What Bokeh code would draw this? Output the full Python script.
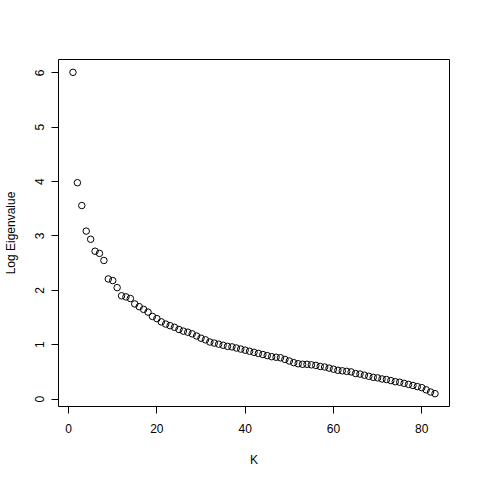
from bokeh.plotting import figure
from bokeh.embed import file_html
from bokeh.resources import INLINE
from bokeh.models import Range1d, FixedTicker

k = list(range(1, 84))
log_eigen = [
    6.01, 3.98, 3.56, 3.09, 2.94, 2.72, 2.68, 2.55, 2.21, 2.18,
    2.05, 1.90, 1.88, 1.85, 1.75, 1.70, 1.65, 1.60, 1.52, 1.48,
    1.42, 1.38, 1.35, 1.32, 1.28, 1.25, 1.23, 1.20, 1.16, 1.12,
    1.09, 1.05, 1.03, 1.01, 0.99, 0.97, 0.96, 0.94, 0.92, 0.90,
    0.88, 0.86, 0.84, 0.82, 0.80, 0.78, 0.77, 0.76, 0.73, 0.70,
    0.67, 0.65, 0.64, 0.64, 0.63, 0.62, 0.60, 0.59, 0.57, 0.55,
    0.53, 0.52, 0.51, 0.50, 0.47, 0.46, 0.44, 0.42, 0.40, 0.39,
    0.37, 0.36, 0.34, 0.32, 0.31, 0.29, 0.27, 0.25, 0.23, 0.21,
    0.17, 0.13, 0.10,
]
x_ticks = [0, 20, 40, 60, 80]
y_ticks = [0, 1, 2, 3, 4, 5, 6]

xpad = (max(k) - min(k)) * 0.04
ypad = (max(log_eigen) - min(log_eigen)) * 0.04

p = figure(
    output_backend="svg", toolbar_location=None,
    width=464, height=472,
    min_border_left=58, min_border_right=15, min_border_top=59, min_border_bottom=66,
    x_range=Range1d(min(k) - xpad, max(k) + xpad),
    y_range=Range1d(min(log_eigen) - ypad, max(log_eigen) + ypad),
    x_axis_label="K", y_axis_label="Log Eigenvalue",
)
p.scatter(k, log_eigen, marker="circle", size=6.5, fill_color=None,
          line_color="black", line_width=1)

p.grid.visible = False
p.outline_line_color = "black"
p.outline_line_width = 1
p.background_fill_color = "white"
p.border_fill_color = "white"

for ax in (p.xaxis[0], p.yaxis[0]):
    ax.axis_line_color = None
    ax.minor_tick_line_color = None
    ax.major_tick_in = 0
    ax.major_tick_out = 7
    ax.major_tick_line_color = "black"
    ax.major_label_text_font = "Liberation Sans"
    ax.major_label_text_font_size = "12px"
    ax.major_label_text_color = "black"
    ax.axis_label_text_font = "Liberation Sans"
    ax.axis_label_text_font_size = "12px"
    ax.axis_label_text_font_style = "normal"
    ax.axis_label_text_color = "black"

p.xaxis[0].ticker = FixedTicker(ticks=x_ticks)
p.yaxis[0].ticker = FixedTicker(ticks=y_ticks)
p.xaxis[0].major_label_standoff = 10
p.xaxis[0].axis_label_standoff = 17
p.yaxis[0].major_label_orientation = "vertical"
p.yaxis[0].major_label_standoff = 7
p.yaxis[0].axis_label_standoff = 15

open("out.html", "w").write(file_html(p, INLINE))
